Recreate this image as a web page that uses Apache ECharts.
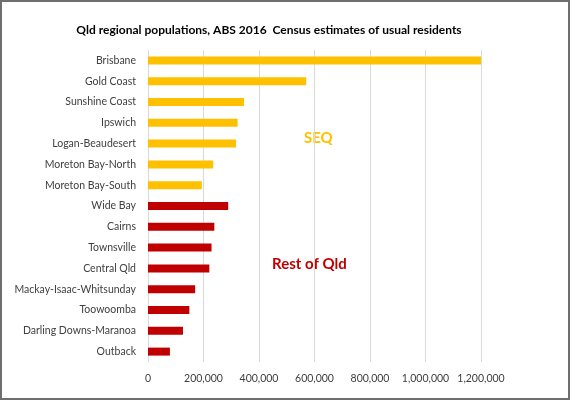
<!DOCTYPE html>
<html>
<head>
<meta charset="utf-8">
<script src="https://cdn.jsdelivr.net/npm/echarts@6/dist/echarts.min.js"></script>
<style>
  html, body { margin: 0; padding: 0; background: #fff; }
  #chart { width: 570px; height: 400px; box-sizing: border-box; border: 2px solid #6e6e6e; }
</style>
</head>
<body>
<div id="chart"></div>
<script type="text/javascript">
    // regions, top to bottom
    var regions = ['Brisbane', 'Gold Coast', 'Sunshine Coast', 'Ipswich', 'Logan-Beaudesert',
        'Moreton Bay-North', 'Moreton Bay-South', 'Wide Bay', 'Cairns', 'Townsville',
        'Central Qld', 'Mackay-Isaac-Whitsunday', 'Toowoomba', 'Darling Downs-Maranoa', 'Outback'];
    var populations = [1200000, 570000, 346000, 323000, 317000, 235000, 194000,
        289000, 239000, 229000, 221000, 170000, 149000, 126000, 79000];
    // which group each region belongs to
    var groups = ['SEQ', 'SEQ', 'SEQ', 'SEQ', 'SEQ', 'SEQ', 'SEQ',
        'Rest', 'Rest', 'Rest', 'Rest', 'Rest', 'Rest', 'Rest', 'Rest'];
    var xTicks = [0, 200000, 400000, 600000, 800000, 1000000, 1200000];

    var groupColor = { SEQ: '#FFC000', Rest: '#C00000' };
    var font = 'Lato, "Open Sans", sans-serif';

    var chart = echarts.init(document.getElementById('chart'));
    chart.setOption({
        animation: false,
        title: {
            text: 'Qld regional populations, ABS 2016  Census estimates of usual residents',
            left: 262, top: 17, textAlign: 'center',
            textStyle: { fontFamily: font, fontSize: 12, fontWeight: 'bold', color: '#000' }
        },
        grid: { left: 146, right: 87, top: 48, bottom: 36 },
        xAxis: {
            type: 'value',
            min: xTicks[0],
            max: xTicks[xTicks.length - 1],
            interval: xTicks[1] - xTicks[0],
            axisLine: { show: false },
            axisTick: { show: false },
            splitLine: { lineStyle: { color: '#d9d9d9' } },
            axisLabel: {
                margin: 11,
                fontFamily: font, fontSize: 10.5, color: '#404040',
                formatter: function (v) { return v.toLocaleString('en-US'); }
            }
        },
        yAxis: {
            type: 'category',
            inverse: true,
            data: regions,
            axisLine: { show: false },
            axisTick: { show: false },
            axisLabel: { margin: 12, fontFamily: font, fontSize: 10.5, color: '#404040' }
        },
        series: [{
            type: 'bar',
            barWidth: 8,
            data: populations.map(function (v, i) {
                return { value: v, itemStyle: { color: groupColor[groups[i]] } };
            })
        }],
        graphic: [
            { type: 'text', left: 302, top: 129,
              style: { text: 'SEQ', fill: '#FFC000', font: 'bold 15px ' + font } },
            { type: 'text', left: 270, top: 255,
              style: { text: 'Rest of Qld', fill: '#C00000', font: 'bold 15px ' + font } }
        ]
    });
</script>
</body>
</html>
